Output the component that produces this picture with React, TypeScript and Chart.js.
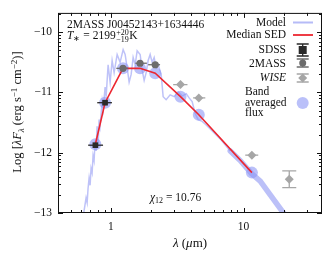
import React, { useEffect, useRef } from "react";
import { Chart, registerables } from "chart.js";
Chart.register(...registerables);

const SERIF = '"Liberation Serif", "Times New Roman", serif';

// Model spectrum (thin part)
const modelLambda = [0.618, 0.651, 0.663, 0.674, 0.686, 0.698, 0.71, 0.723, 0.735, 0.748, 0.761, 0.775, 0.788, 0.802, 0.816, 0.83, 0.86, 0.875, 0.906, 0.922, 0.954, 0.988, 1.023, 1.059, 1.116, 1.175, 1.238, 1.282, 1.327, 1.374, 1.423, 1.473, 1.525, 1.579, 1.663, 1.722, 1.783, 1.846, 1.911, 1.979, 2.049, 2.121, 2.196, 2.274, 2.395, 2.479, 2.611, 2.799, 3.001, 3.218, 3.451, 3.7, 3.89, 4.1, 4.32, 4.55, 4.88, 5.23, 5.81, 6.67, 7.94];
const modelFlux = [-13.07, -12.75, -12.83, -12.59, -12.42, -12.54, -12.26, -12.33, -12.05, -12.13, -11.8, -11.97, -11.56, -11.89, -11.45, -11.56, -11.15, -11.28, -10.91, -11.07, -10.54, -10.83, -10.47, -10.67, -10.37, -10.5, -10.29, -10.37, -10.59, -10.83, -10.7, -10.42, -10.54, -10.31, -10.37, -10.63, -10.8, -10.67, -10.47, -10.37, -10.5, -10.42, -10.59, -10.54, -10.7, -11.07, -11.12, -11.04, -11.07, -10.99, -11.06, -11.02, -11.09, -11.15, -11.35, -11.45, -11.48, -11.54, -11.64, -11.77, -11.97];
// Model spectrum (dense mid-IR part)
const modelIRLambda = [7.94, 9.44, 11.43, 13.36, 15.89, 20.3];
const modelIRFlux = [-11.97, -12.13, -12.34, -12.47, -12.7, -13.02];

// Band averaged flux / median SED
const bandLambda = [0.765, 0.905, 1.235, 1.66, 2.16, 3.35, 4.6, 11.56];
const bandFlux = [-11.86, -11.17, -10.6, -10.6, -10.68, -11.07, -11.37, -12.33];

// Photometry
const sdssLambda = [0.765, 0.905];
const sdssFlux = [-11.875, -11.17];
const sdssLo = [0.675, 0.79];
const sdssHi = [0.874, 1.02];
const sdssErr = [0.01, 0.01];

const tmassLambda = [1.235, 1.66, 2.16];
const tmassFlux = [-10.6, -10.515, -10.54];
const tmassLo = [1.1, 1.53, 1.91];
const tmassHi = [1.35, 1.87, 2.35];
const tmassErr = [0.01, 0.01, 0.01];

const wiseLambda = [3.35, 4.6, 11.56, 22.1];
const wiseFlux = [-10.87, -11.09, -12.04, -12.44];
const wiseLo = [2.95, 4.17, 10.3, 22.1];
const wiseHi = [3.78, 5.15, 12.9, 22.1];
const wiseErr = [0.01, 0.01, 0.02, 0.14];

const xTicks = [1, 10];
const xMinor = [0.5, 0.6, 0.7, 0.8, 0.9, 2, 3, 4, 5, 6, 7, 8, 9, 20, 30];
const yTicks = [-13, -12, -11, -10];

const zip = (a: number[], b: number[]) => a.map((x, i) => ({ x, y: b[i] }));

type Part = { t: string; it?: boolean; sz?: number; dy?: number };
function font(p: Part, base: number) {
  return `${p.it ? "italic " : ""}${p.sz ?? base}px ${SERIF}`;
}
function richWidth(ctx: CanvasRenderingContext2D, parts: Part[], base: number) {
  let w = 0;
  for (const p of parts) {
    ctx.font = font(p, base);
    w += ctx.measureText(p.t).width;
  }
  return w;
}
function drawRich(ctx: CanvasRenderingContext2D, parts: Part[], x: number, y: number, base: number, align: string) {
  const w = richWidth(ctx, parts, base);
  let cx = align === "right" ? x - w : align === "center" ? x - w / 2 : x;
  ctx.textAlign = "left";
  ctx.textBaseline = "alphabetic";
  for (const p of parts) {
    ctx.font = font(p, base);
    ctx.fillText(p.t, cx, y + (p.dy || 0));
    cx += ctx.measureText(p.t).width;
  }
  return cx;
}

const errMap: Record<number, { lam: number[]; f: number[]; lo: number[]; hi: number[]; err: number[]; color: string }> = {
  4: { lam: sdssLambda, f: sdssFlux, lo: sdssLo, hi: sdssHi, err: sdssErr, color: "#2a2a2a" },
  5: { lam: tmassLambda, f: tmassFlux, lo: tmassLo, hi: tmassHi, err: tmassErr, color: "#6c6c6c" },
  6: { lam: wiseLambda, f: wiseFlux, lo: wiseLo, hi: wiseHi, err: wiseErr, color: "#a6a6a6" },
};

const customPlugin = {
  id: "custom",
  beforeDatasetDraw(chart: any, args: any) {
    const e = errMap[args.index];
    if (!e) return;
    const { ctx, scales, chartArea } = chart;
    const xs = scales.x, ys = scales.y;
    ctx.save();
    ctx.beginPath();
    ctx.rect(chartArea.left, chartArea.top, chartArea.right - chartArea.left, chartArea.bottom - chartArea.top);
    ctx.clip();
    ctx.strokeStyle = e.color;
    ctx.lineWidth = 1.3;
    for (let i = 0; i < e.lam.length; i++) {
      const py = ys.getPixelForValue(e.f[i]);
      const px = xs.getPixelForValue(e.lam[i]);
      ctx.beginPath();
      ctx.moveTo(xs.getPixelForValue(e.lo[i]), py);
      ctx.lineTo(xs.getPixelForValue(e.hi[i]), py);
      ctx.stroke();
      if (e.err[i] > 0.05) {
        const y1 = ys.getPixelForValue(e.f[i] + e.err[i]);
        const y2 = ys.getPixelForValue(e.f[i] - e.err[i]);
        ctx.beginPath();
        ctx.moveTo(px, y1); ctx.lineTo(px, y2);
        ctx.moveTo(px - 7, y1); ctx.lineTo(px + 7, y1);
        ctx.moveTo(px - 7, y2); ctx.lineTo(px + 7, y2);
        ctx.stroke();
      }
    }
    ctx.restore();
  },
  afterDraw(chart: any) {
    const { ctx, scales, chartArea: a } = chart;
    const xs = scales.x, ys = scales.y;
    ctx.save();
    ctx.strokeStyle = "#111";
    ctx.fillStyle = "#111";
    ctx.lineWidth = 1;
    // frame
    ctx.strokeRect(a.left + 0.5, a.top + 0.5, a.right - a.left - 1, a.bottom - a.top - 1);
    // x ticks
    const tickX = (v: number, len: number) => {
      const px = Math.round(xs.getPixelForValue(v)) + 0.5;
      ctx.beginPath();
      ctx.moveTo(px, a.bottom); ctx.lineTo(px, a.bottom - len);
      ctx.moveTo(px, a.top); ctx.lineTo(px, a.top + len);
      ctx.stroke();
    };
    xTicks.forEach((v) => tickX(v, 5));
    xMinor.forEach((v) => tickX(v, 3));
    const tickY = (v: number, len: number) => {
      const py = Math.round(ys.getPixelForValue(v)) + 0.5;
      ctx.beginPath();
      ctx.moveTo(a.left, py); ctx.lineTo(a.left + len, py);
      ctx.moveTo(a.right, py); ctx.lineTo(a.right - len, py);
      ctx.stroke();
    };
    yTicks.forEach((v) => tickY(v, 5));
    for (const d of yTicks) {
      for (let k = 2; k <= 9; k++) {
        const v = d + Math.log10(k);
        if (v < ys.max) tickY(v, 3);
      }
    }
    // annotations
    drawRich(ctx, [{ t: "2MASS J00452143+1634446" }], 67, 27.5, 11.5, "left");
    let cx = drawRich(ctx, [{ t: "T", it: true }, { t: "\u2217", sz: 8, dy: 2.5 }, { t: " = 2199" }], 67, 38.5, 11.5, "left");
    ctx.font = `8px ${SERIF}`;
    ctx.fillText("+20", cx + 0.5, 34.5);
    ctx.fillText("\u221219", cx + 0.5, 42);
    cx += ctx.measureText("\u221219").width + 1;
    ctx.font = `11.5px ${SERIF}`;
    ctx.fillText("K", cx, 38.5);
    drawRich(ctx, [{ t: "\u03c7", it: true }, { t: "12", sz: 8, dy: 2.5 }, { t: " = 10.76" }], 150, 200.5, 11.5, "left");
    // legend
    const lx = 286, sx = 302.7;
    drawRich(ctx, [{ t: "Model" }], lx, 25.7, 11.5, "right");
    ctx.strokeStyle = "rgba(110,120,240,0.5)";
    ctx.lineWidth = 2;
    ctx.beginPath(); ctx.moveTo(293, 22.5); ctx.lineTo(313, 22.5); ctx.stroke();
    drawRich(ctx, [{ t: "Median SED" }], lx, 38.3, 11.5, "right");
    ctx.strokeStyle = "rgb(236,38,48)";
    ctx.lineWidth = 1.8;
    ctx.beginPath(); ctx.moveTo(293, 35); ctx.lineTo(313, 35); ctx.stroke();
    drawRich(ctx, [{ t: "SDSS" }], lx, 53.3, 11.5, "right");
    drawRich(ctx, [{ t: "2MASS" }], lx, 66.7, 11.5, "right");
    drawRich(ctx, [{ t: "WISE", it: true }], lx, 81, 11.5, "right");
    const errSym = (cy: number, h: number, color: string) => {
      ctx.strokeStyle = color;
      ctx.lineWidth = 1.3;
      ctx.beginPath();
      ctx.moveTo(sx, cy - h); ctx.lineTo(sx, cy + h);
      ctx.moveTo(sx - 6, cy - h); ctx.lineTo(sx + 6, cy - h);
      ctx.moveTo(sx - 6, cy + h); ctx.lineTo(sx + 6, cy + h);
      ctx.stroke();
      ctx.fillStyle = color;
    };
    errSym(50, 6, "#2a2a2a");
    ctx.fillRect(sx - 4, 46, 8, 8);
    errSym(63, 4, "#6c6c6c");
    ctx.beginPath(); ctx.arc(sx, 63, 3.5, 0, Math.PI * 2); ctx.fill();
    errSym(78, 4, "#a6a6a6");
    ctx.beginPath();
    ctx.moveTo(sx, 73.5); ctx.lineTo(sx + 4.5, 78); ctx.lineTo(sx, 82.5); ctx.lineTo(sx - 4.5, 78); ctx.closePath(); ctx.fill();
    ctx.fillStyle = "#111";
    drawRich(ctx, [{ t: "Band" }], 245, 95, 11.5, "left");
    drawRich(ctx, [{ t: "averaged" }], 245, 105.5, 11.5, "left");
    drawRich(ctx, [{ t: "flux" }], 245, 116, 11.5, "left");
    ctx.fillStyle = "rgba(140,150,245,0.6)";
    ctx.beginPath(); ctx.arc(sx, 103, 6, 0, Math.PI * 2); ctx.fill();
    // axis titles
    ctx.fillStyle = "#111";
    drawRich(ctx, [{ t: "\u03bb", it: true }, { t: " (" }, { t: "\u03bc", it: true }, { t: "m)" }], (a.left + a.right) / 2, 247, 13, "center");
    ctx.save();
    ctx.translate(21, 112);
    ctx.rotate(-Math.PI / 2);
    drawRich(ctx, [
      { t: "Log [" }, { t: "\u03bbF", it: true }, { t: "\u03bb", it: true, sz: 9, dy: 2.5 },
      { t: " (erg s" }, { t: "\u22121", sz: 9, dy: -4.5 }, { t: " cm" }, { t: "\u22122", sz: 9, dy: -4.5 }, { t: ")]" },
    ], 0, 0, 12.5, "center");
    ctx.restore();
    ctx.restore();
  },
};

export default function App() {
  const ref = useRef<HTMLCanvasElement>(null);
  useEffect(() => {
    document.body.style.margin = "0";
    const chart = new Chart(ref.current as HTMLCanvasElement, {
      type: "line",
      data: {
        datasets: [
          { data: zip(modelLambda, modelFlux), borderColor: "rgba(110,120,240,0.45)", borderWidth: 1.5, pointRadius: 0, order: 10 } as any,
          { data: zip(modelIRLambda, modelIRFlux), borderColor: "rgba(120,130,242,0.5)", borderWidth: 5.5, pointRadius: 0, order: 9, borderCapStyle: "round" } as any,
          { data: zip(bandLambda, bandFlux), showLine: false, pointRadius: 6, pointBackgroundColor: "rgba(140,150,245,0.6)", pointBorderWidth: 0, order: 8 } as any,
          { data: zip(bandLambda, bandFlux), borderColor: "rgb(236,38,48)", borderWidth: 1.6, pointRadius: 0, order: 7 } as any,
          { data: zip(sdssLambda, sdssFlux), showLine: false, pointStyle: "rect", pointRadius: 4, pointBackgroundColor: "#2a2a2a", pointBorderWidth: 0, order: 3 } as any,
          { data: zip(tmassLambda, tmassFlux), showLine: false, pointStyle: "circle", pointRadius: 3.6, pointBackgroundColor: "#6c6c6c", pointBorderWidth: 0, order: 2 } as any,
          { data: zip(wiseLambda, wiseFlux), showLine: false, pointStyle: "rectRot", pointRadius: 4.5, pointBackgroundColor: "#a6a6a6", pointBorderWidth: 0, order: 1 } as any,
        ],
      },
      options: {
        responsive: false,
        animation: false,
        devicePixelRatio: 1,
        layout: { padding: { top: 10, right: 10, left: 0, bottom: 0 } },
        elements: { line: { tension: 0 } },
        plugins: { legend: { display: false }, tooltip: { enabled: false } },
        scales: {
          x: {
            type: "logarithmic",
            min: 0.4,
            max: 39,
            grid: { display: false, drawTicks: false },
            border: { display: false },
            afterBuildTicks: (s: any) => { s.ticks = xTicks.map((v) => ({ value: v })); },
            afterFit: (s: any) => { s.height = 48; },
            ticks: { font: { family: SERIF, size: 11.5 }, color: "#111", padding: 7, maxRotation: 0, autoSkip: false, callback: (v: any) => String(v) },
          },
          y: {
            type: "linear",
            min: -13,
            max: -9.68,
            grid: { display: false, drawTicks: false },
            border: { display: false },
            afterBuildTicks: (s: any) => { s.ticks = yTicks.map((v) => ({ value: v })); },
            afterFit: (s: any) => { s.width = 58; },
            ticks: { font: { family: SERIF, size: 11.5 }, color: "#111", padding: 6, callback: (v: any) => (v < 0 ? "\u2212" + Math.abs(v) : String(v)) },
          },
        },
      } as any,
      plugins: [customPlugin],
    });
    return () => chart.destroy();
  }, []);
  return (
    <div style={{ width: 332, height: 261 }}>
      <canvas ref={ref} width={332} height={261} style={{ display: "block" }} />
    </div>
  );
}
